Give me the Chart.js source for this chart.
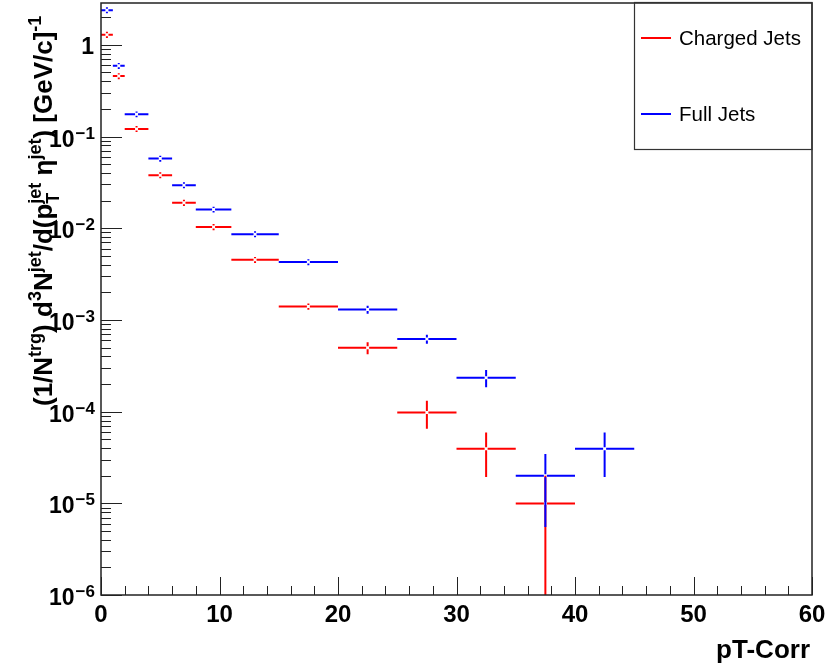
<!DOCTYPE html>
<html>
<head>
<meta charset="utf-8">
<script src="https://cdn.jsdelivr.net/npm/chart.js@4/dist/chart.umd.min.js"></script>
<style>
body { margin: 0; background: #ffffff; }
canvas { display: block; }
</style>
</head>
<body>
<canvas id="jetChart" width="830" height="668"></canvas>
<script>
"use strict";

// bin edges (pT-Corr)
var binLow  = [0, 1, 2, 4, 6, 8, 11, 15, 20, 25, 30, 35, 40];
var binHigh = [1, 2, 4, 6, 8, 11, 15, 20, 25, 30, 35, 40, 45];

var chargedVals = [1.29, 0.456, 0.121, 0.0379, 0.0190, 0.0103, 0.00452, 0.00140, 4.96e-4, 9.8e-5, 3.93e-5, 9.95e-6, null];
var chargedErrs = [0.10, 0.035, 0.009, 0.0029, 0.0015, 0.0008, 0.00035, 0.00011, 7.5e-5, 3.3e-5, 2.0e-5, 1.0e-5, null];

var fullVals = [2.39, 0.59, 0.175, 0.0575, 0.0295, 0.0160, 0.00862, 0.00427, 0.00130, 6.2e-4, 2.34e-4, 2.0e-5, 3.93e-5];
var fullErrs = [0.18, 0.045, 0.013, 0.0044, 0.0022, 0.0012, 0.00065, 0.00033, 1.3e-4, 7.0e-5, 5.0e-5, 1.45e-5, 2.0e-5];

var xTickLabels = [0, 10, 20, 30, 40, 50, 60];
var yDecades = [-6, -5, -4, -3, -2, -1, 0];

var seriesNames = ["Charged Jets", "Full Jets"];
var seriesColors = ["#ff0000", "#0000ff"];

var BOLD = "'Liberation Sans', Arial, Helvetica, sans-serif";

function makePoints(vals, errs) {
	var pts = [];
	for (var i = 0; i < binLow.length; i++) {
		if (vals[i] === null) continue;
		pts.push({ x: (binLow[i] + binHigh[i]) / 2, y: vals[i], lo: binLow[i], hi: binHigh[i], err: errs[i] });
	}
	return pts;
}

// error bars like ROOT's "E" option, with a small gap at the centre
var errorBarPlugin = {
	id: "errorBars",
	afterDatasetsDraw: function (chart) {
		var ctx = chart.ctx;
		var xs = chart.scales.x;
		var ys = chart.scales.y;
		var area = chart.chartArea;
		var gap = 1.5;

		ctx.save();
		ctx.beginPath();
		ctx.rect(area.left, area.top, area.right - area.left, area.bottom - area.top);
		ctx.clip();
		ctx.lineWidth = 2;

		chart.data.datasets.forEach(function (ds) {
			ctx.strokeStyle = ds.borderColor;
			ds.data.forEach(function (p) {
				var cx = xs.getPixelForValue(p.x);
				var cy = ys.getPixelForValue(p.y);
				var x0 = xs.getPixelForValue(p.lo);
				var x1 = xs.getPixelForValue(p.hi);
				var yTop = ys.getPixelForValue(p.y + p.err);
				var yBot = (p.y - p.err) > 0 ? ys.getPixelForValue(p.y - p.err) : area.bottom + 2;

				ctx.beginPath();
				ctx.moveTo(x0, cy); ctx.lineTo(cx - gap, cy);
				ctx.moveTo(cx + gap, cy); ctx.lineTo(x1, cy);
				if (cy - gap > yTop) { ctx.moveTo(cx, yTop); ctx.lineTo(cx, cy - gap); }
				if (yBot > cy + gap) { ctx.moveTo(cx, cy + gap); ctx.lineTo(cx, yBot); }
				ctx.stroke();
			});
		});
		ctx.restore();
	}
};

function drawRich(ctx, parts, size) {
	// parts: [text, kind] kind = "n" normal, "sup", "sub", "both" (sub + sup stacked)
	var x = 0;
	var small = Math.round(size * 0.7);
	parts.forEach(function (p) {
		if (p[1] === "n") {
			ctx.font = "bold " + size + "px " + BOLD;
			ctx.fillText(p[0], x, 0);
			x += ctx.measureText(p[0]).width;
		} else if (p[1] === "sup") {
			ctx.font = "bold " + small + "px " + BOLD;
			ctx.fillText(p[0], x, -size * 0.42);
			x += ctx.measureText(p[0]).width;
		} else if (p[1] === "sub") {
			ctx.font = "bold " + small + "px " + BOLD;
			ctx.fillText(p[0], x, size * 0.25);
			x += ctx.measureText(p[0]).width;
		} else if (p[1] === "both") {
			ctx.font = "bold " + small + "px " + BOLD;
			ctx.fillText(p[0], x, size * 0.25);
			ctx.fillText(p[2], x, -size * 0.42);
			x += Math.max(ctx.measureText(p[0]).width, ctx.measureText(p[2]).width);
		}
	});
	return x;
}

var rootFramePlugin = {
	id: "rootFrame",
	afterDraw: function (chart) {
		var ctx = chart.ctx;
		var xs = chart.scales.x;
		var ys = chart.scales.y;
		var a = chart.chartArea;

		ctx.save();
		ctx.fillStyle = "#000000";
		ctx.strokeStyle = "#222222";

		// frame
		ctx.lineWidth = 1.5;
		ctx.strokeRect(a.left, a.top, a.right - a.left, a.bottom - a.top);

		// x ticks (inside), major every 10, minor every 2
		ctx.lineWidth = 1;
		ctx.beginPath();
		for (var v = 0; v <= 60; v += 2) {
			var px = Math.round(xs.getPixelForValue(v)) + 0.5;
			var len = (v % 10 === 0) ? 18 : 9;
			ctx.moveTo(px, a.bottom);
			ctx.lineTo(px, a.bottom - len);
		}
		// y ticks, log
		yDecades.forEach(function (d) {
			for (var m = 1; m <= 9; m++) {
				var val = m * Math.pow(10, d);
				if (val < ys.min || val > ys.max) continue;
				var py = Math.round(ys.getPixelForValue(val)) + 0.5;
				var l = (m === 1) ? 21 : 10;
				ctx.moveTo(a.left, py);
				ctx.lineTo(a.left + l, py);
			}
		});
		ctx.stroke();

		// x labels
		ctx.textAlign = "center";
		ctx.textBaseline = "alphabetic";
		ctx.font = "bold 24px " + BOLD;
		xTickLabels.forEach(function (v) {
			ctx.fillText(String(v), xs.getPixelForValue(v), 622);
		});

		// x title
		ctx.textAlign = "right";
		ctx.font = "bold 26px " + BOLD;
		ctx.fillText("pT-Corr", a.right - 2, 658);

		// y labels
		ctx.textAlign = "left";
		yDecades.forEach(function (d) {
			var py = ys.getPixelForValue(Math.pow(10, d));
			var right = a.left - 7;
			if (d === 0) {
				ctx.font = "bold 23px " + BOLD;
				var w1 = ctx.measureText("1").width;
				ctx.fillText("1", right - w1, py + 9);
				return;
			}
			var sup = "\u2212" + String(-d);
			ctx.font = "bold 23px " + BOLD;
			var wb = ctx.measureText("10").width;
			ctx.font = "bold 17px " + BOLD;
			var ws = ctx.measureText(sup).width;
			var x0 = right - wb - ws;
			ctx.font = "bold 23px " + BOLD;
			ctx.fillText("10", x0, py + 10);
			ctx.font = "bold 17px " + BOLD;
			ctx.fillText(sup, x0 + wb + 1, py + 2);
		});

		// y title, rotated
		ctx.save();
		ctx.translate(52, 406);
		ctx.rotate(-Math.PI / 2);
		ctx.textAlign = "left";
		drawRich(ctx, [
			["(1/N", "n"], ["trg", "sup"], [") d", "n"], ["3", "sup"], ["N", "n"], ["jet", "sup"],
			["/d(p", "n"], ["T", "both", "jet"], [" \u03b7", "n"], ["jet", "sup"],
			[") [GeV/c]", "n"], ["-1", "sup"]
		], 26);
		ctx.restore();

		// legend
		ctx.lineWidth = 1.2;
		ctx.strokeStyle = "#333333";
		ctx.strokeRect(634.5, 2.5, 177.5, 147);
		var legY = [38, 114];
		ctx.font = "20.5px " + BOLD;
		ctx.textAlign = "left";
		ctx.textBaseline = "middle";
		chart.data.datasets.forEach(function (ds, i) {
			ctx.strokeStyle = ds.borderColor;
			ctx.lineWidth = 2;
			ctx.beginPath();
			ctx.moveTo(641, legY[i]);
			ctx.lineTo(671, legY[i]);
			ctx.stroke();
			ctx.fillStyle = "#000000";
			ctx.fillText(ds.label, 679, legY[i] + 1);
		});

		ctx.restore();
	}
};

var chartCtx = document.getElementById("jetChart").getContext("2d");

var jetChart = new Chart(chartCtx, {
	type: "scatter",
	data: {
		datasets: [
			{ label: seriesNames[0], data: makePoints(chargedVals, chargedErrs), borderColor: seriesColors[0], backgroundColor: seriesColors[0], pointRadius: 0, showLine: false },
			{ label: seriesNames[1], data: makePoints(fullVals, fullErrs), borderColor: seriesColors[1], backgroundColor: seriesColors[1], pointRadius: 0, showLine: false }
		]
	},
	options: {
		responsive: false,
		animation: false,
		devicePixelRatio: 1,
		layout: { padding: { left: 101, top: 3, right: 18, bottom: 73 } },
		plugins: { legend: { display: false }, tooltip: { enabled: false } },
		scales: {
			x: { type: "linear", min: 0, max: 60, display: false },
			y: { type: "logarithmic", min: 1e-6, max: 2.86, display: false }
		}
	},
	plugins: [errorBarPlugin, rootFramePlugin]
});
</script>
</body>
</html>
